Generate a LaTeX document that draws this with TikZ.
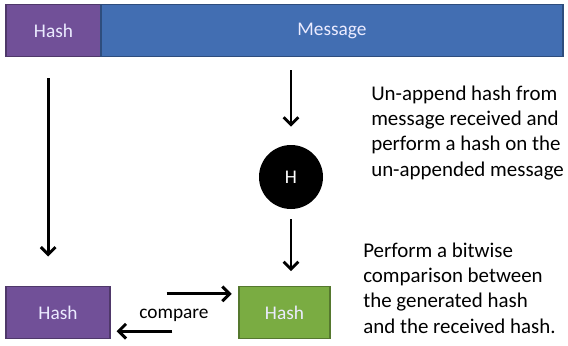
\documentclass[tikz,border=0pt]{standalone}
\usepackage{fontspec}
\setmainfont{Carlito}
\usetikzlibrary{arrows.meta}

\definecolor{hashpurple}{RGB}{113,80,152}
\definecolor{msgblue}{RGB}{66,110,178}
\definecolor{gengreen}{RGB}{122,172,66}

\tikzset{
  box/.style={draw=#1!70!black, fill=#1, line width=1pt, text=white!92!blue,
    minimum height=39pt, inner sep=0pt, font=\fontsize{14.5}{17}\selectfont},
  arr/.style={line width=2.2pt, -{Straight Barb[length=5.5pt,width=11pt,line width=2.2pt]}},
  note/.style={anchor=north west, align=left, inner sep=0pt,
    font=\fontsize{15.7}{18.8}\selectfont}
}

\begin{document}
\begin{tikzpicture}[x=0.75pt, y=-0.75pt]
    \useasboundingbox (0,0) rectangle (568,346);

    % received packet
    \node[box=hashpurple, minimum width=71.25pt] (hashtop) at (53.5,30.5){Hash};
    \node[box=msgblue, minimum width=346.5pt] (msg) at (332,30.5){Message};

    % hash recomputed
    \node[circle, fill=black, text=white, minimum size=48pt, inner sep=0pt,
          font=\fontsize{14.5}{17}\selectfont] (hc) at (291,177){H};

    \node[box=hashpurple, minimum width=78pt] (hashbot) at (58,312.5){Hash};
    \node[box=gengreen, minimum width=68.25pt] (hgen) at (284.5,312.5){Hash};

    \draw[arr, shorten >=22pt] ([shift={(-4pt,-16pt)}]hashtop.south) coordinate (lt) -- (lt |- hashbot.north);
    \draw[arr, shorten <=10pt, shorten >=13.5pt] (hc.north |- msg.south) -- (hc.north);
    \draw[arr, shorten <=7.5pt, shorten >=11pt] (hc.south) -- (hc.south |- hgen.north);

    % comparison
    \draw[arr, shorten <=42pt, shorten >=5pt] ([yshift=14pt]hashbot.east) -- ([yshift=14pt]hgen.west);
    \draw[arr, shorten <=49.5pt, shorten >=4.5pt] ([yshift=-14pt]hgen.west) -- ([yshift=-14pt]hashbot.east);
    \node[font=\fontsize{14.5}{17}\selectfont] (cmp) at (174,315){compare};

    \node[note] (step1) at (371,86){Un-append hash from\\message received and\\perform a hash on the\\un-appended message};
    \node[note] (step2) at (363,243){Perform a bitwise\\comparison between\\the generated hash\\and the received hash.};
\end{tikzpicture}
\end{document}
